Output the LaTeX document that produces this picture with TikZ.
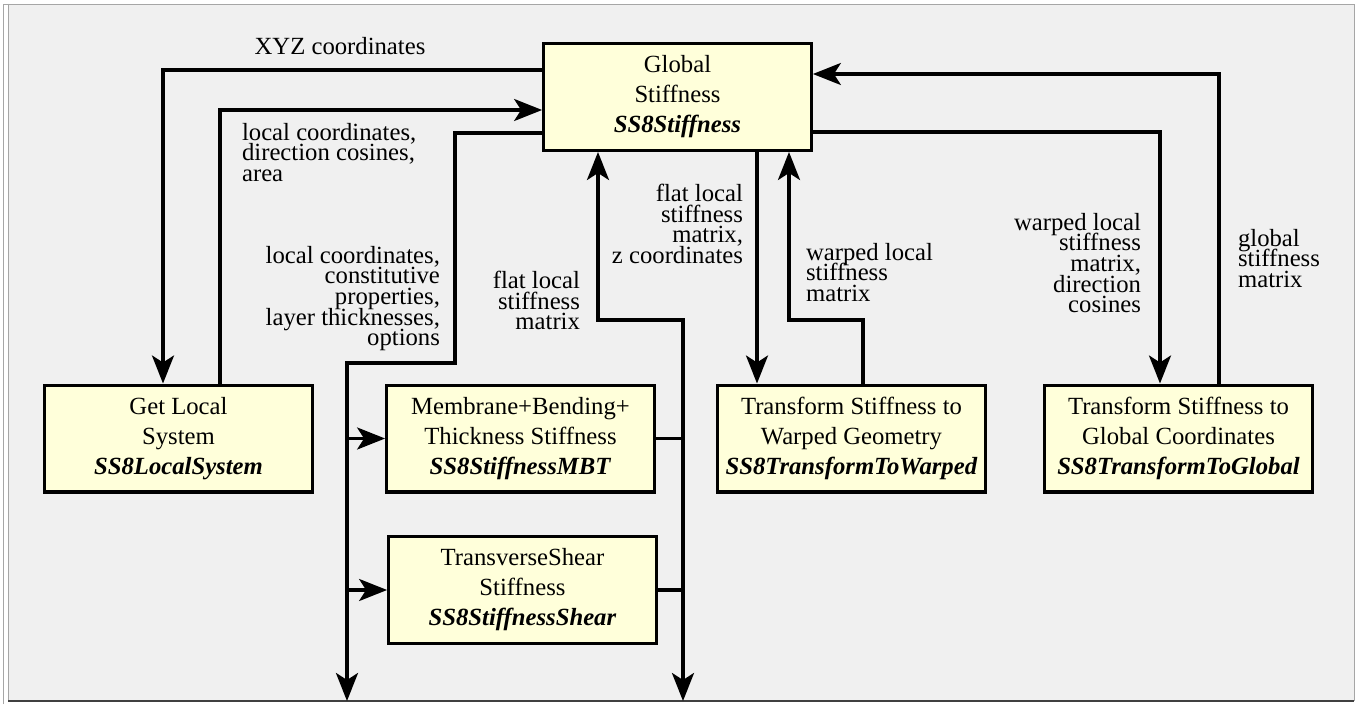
\documentclass[tikz,border=0pt]{standalone}
\usepackage{fontspec}
\setmainfont{Liberation Serif}
\usepackage{xcolor}
\usetikzlibrary{arrows.meta}
\definecolor{panel}{HTML}{F0F0F0}
\definecolor{boxfill}{HTML}{FFFFDA}
\newcommand\lblfont{\fontsize{12.35pt}{10.3pt}\selectfont\setlength{\lineskiplimit}{-20pt}}

\begin{document}
\begin{tikzpicture}[x=0.5pt,y=-0.5pt,
>={Stealth[length=14pt,width=11pt,inset=3.5pt]},
flow/.style={line width=1.6pt,->},
wire/.style={line width=1.6pt}]
\tikzstyle{every node}=[inner sep=0pt]
\tikzstyle{proc}=[draw,line width=1.6pt,fill=boxfill,minimum width=133.8pt,minimum height=53.4pt,
  align=center,font={\fontsize{12.35pt}{15pt}\selectfont}]
\tikzstyle{lbl}=[font={\lblfont}]
    \useasboundingbox (0,0) rectangle (1357,706);
    % panel
    \fill[white] (0,0) rectangle (1357,706);
    \fill[panel] (8,4) rectangle (1354,701);
    \draw[gray!70] (3,704) -- (3,4) -- (1354,4) -- (1354,701);
    \draw[gray!70] (8,4) -- (8,701);
    \draw[black!75,line width=0.8pt] (8,701) -- (1354,701);

    \node[proc] (Glob) at (677.5,97) {Global\\Stiffness\\\textbf{\textit{SS8Stiffness}}};
    \node[proc] (Local) at (178.5,438.5) {Get Local\\System\\\textbf{\textit{SS8LocalSystem}}};
    \node[proc] (MBT) at (520.5,438.5) {Membrane+Bending+\\Thickness Stiffness\\\textbf{\textit{SS8StiffnessMBT}}};
    \node[proc] (Shear) at (522.5,590) {TransverseShear\\Stiffness\\\textbf{\textit{SS8StiffnessShear}}};
    \node[proc] (Warp) at (851.5,438.5) {Transform Stiffness to\\Warped Geometry\\\textbf{\textit{SS8TransformToWarped}}};
    \node[proc] (ToGlob) at (1178.5,438.5) {Transform Stiffness to\\Global Coordinates\\\textbf{\textit{SS8TransformToGlobal}}};

    \coordinate (OutL) at (347,701);
    \coordinate (OutR) at (683,701);

    % to and from the local system
    \draw[flow] (Glob.west |- 0,70) -| (163,0 |- Local.north);
    \draw[flow] (220,0 |- Local.north) |- (Glob.west |- 0,110);
    % stiffness inputs
    \draw[flow] (Glob.west |- 0,133) -| (455,363) -| (OutL);
    \draw[flow] (OutL |- MBT.west) -- (MBT.west);
    \draw[flow] (OutL |- Shear.west) -- (Shear.west);
    % flat stiffness back
    \draw[wire] (MBT.east) -- (MBT.east -| OutR);
    \draw[wire] (Shear.east) -- (Shear.east -| OutR);
    \draw[line width=1.6pt,<->] (598,0 |- Glob.south) |- (OutR |- 0,320) -- (OutR);
    % warping
    \draw[flow] (757,0 |- Glob.south) -- (757,0 |- Warp.north);
    \draw[flow] (863,0 |- Warp.north) |- (789,320) -- (789,0 |- Glob.south);
    % global transform
    \draw[flow] (Glob.east |- 0,132) -| (1160,0 |- ToGlob.north);
    \draw[flow] (1219,0 |- ToGlob.north) |- (Glob.east |- 0,74);

    % Labels of the connectors
    \begin{scope}[every node/.style={lbl}]
     \node[anchor=base] (xyzLbl) at (340,55) {XYZ coordinates};
     \node[anchor=north west,align=left] (dirLbl) at (235,116) {local coordinates,\\direction cosines,\\area};
     \node[anchor=north east,align=right] (propLbl) at (447,239) {local coordinates,\\constitutive\\properties,\\layer thicknesses,\\options};
     \node[anchor=north east,align=right] (flatLbl) at (587,264) {flat local\\stiffness\\matrix};
     \node[anchor=north east,align=right] (flatzLbl) at (750,177) {flat local\\stiffness\\matrix,\\z coordinates};
     \node[anchor=north west,align=left] (warpLbl) at (799,236) {warped local\\stiffness\\matrix};
     \node[anchor=north east,align=right] (warpdcLbl) at (1148,206) {warped local\\stiffness\\matrix,\\direction\\cosines};
     \node[anchor=north west,align=left] (globLbl) at (1231,222) {global\\stiffness\\matrix};
    \end{scope}

\end{tikzpicture}
\end{document}
